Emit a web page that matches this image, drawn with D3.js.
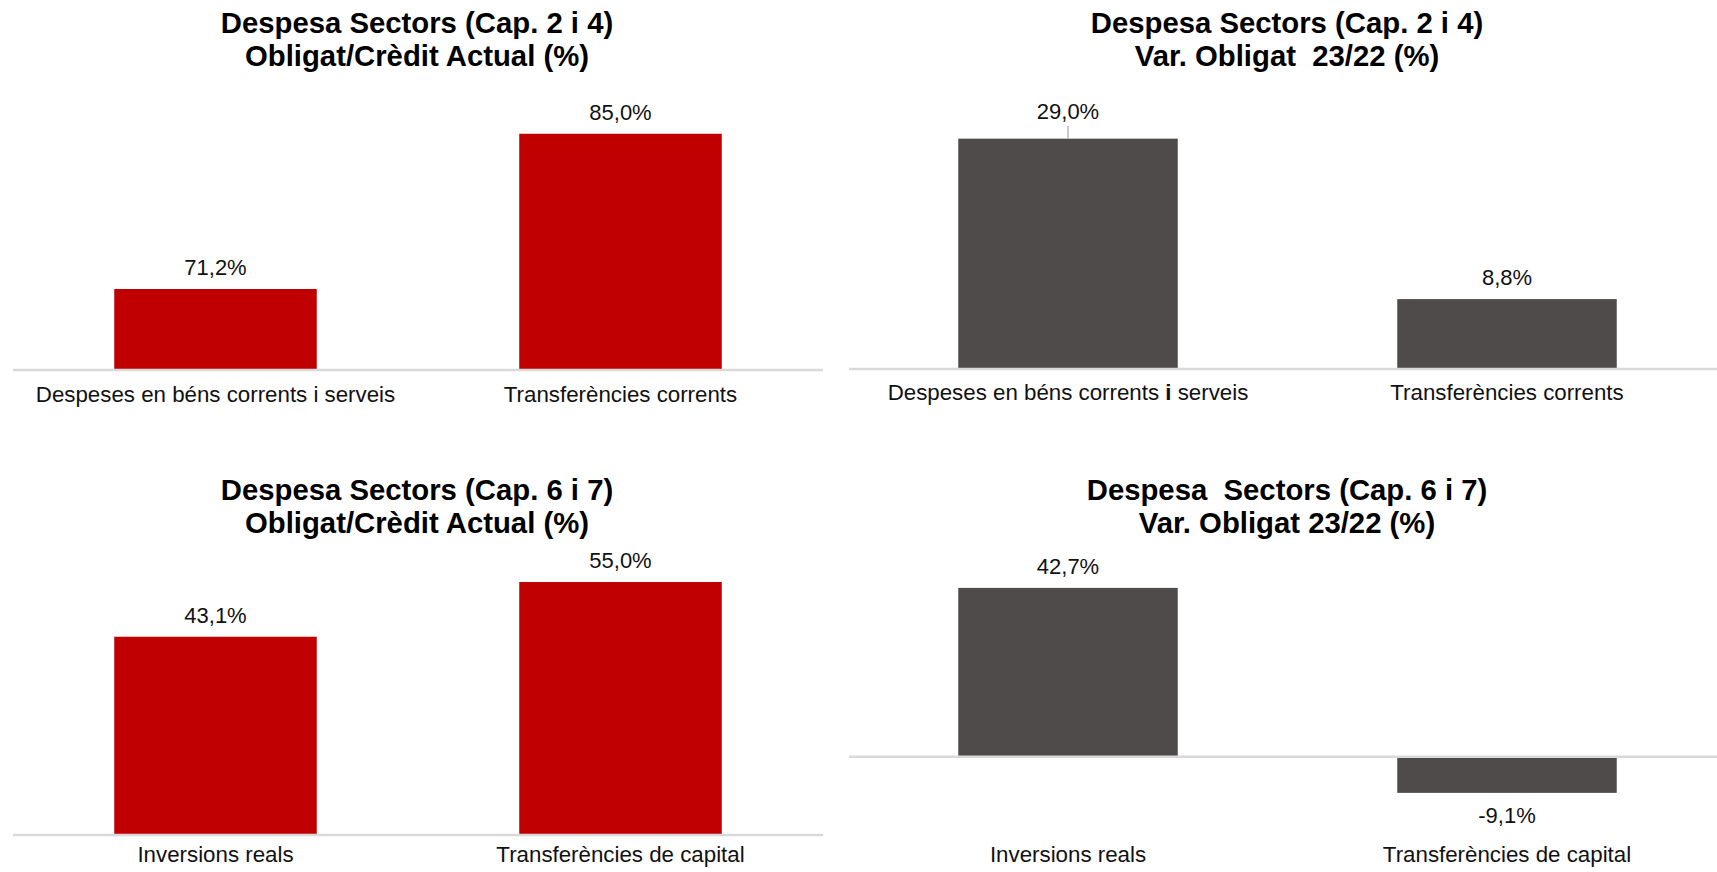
<!DOCTYPE html>
<html>
<head>
<meta charset="utf-8">
<script src="https://cdn.jsdelivr.net/npm/d3@7"></script>
<style>
  html, body { margin: 0; padding: 0; background: #ffffff; }
  svg { display: block; font-family: "Liberation Sans", Arial, sans-serif; }
</style>
</head>
<body>
<svg id="chart" width="1717" height="872"></svg>
<script>
// ---- Data ----
const categoriesCap24 = ["Despeses en béns corrents i serveis", "Transferències corrents"];
const categoriesCap67 = ["Inversions reals", "Transferències de capital"];

const obligatCreditCap24 = [71.2, 85.0];
const varObligatCap24 = [29.0, 8.8];
const obligatCreditCap67 = [43.1, 55.0];
const varObligatCap67 = [42.7, -9.1];

const titleTopLeft = ["Despesa Sectors (Cap. 2 i 4)", "Obligat/Crèdit Actual (%)"];
const titleTopRight = ["Despesa Sectors (Cap. 2 i 4)", "Var. Obligat\u00a0 23/22 (%)"];
const titleBottomLeft = ["Despesa Sectors (Cap. 6 i 7)", "Obligat/Crèdit Actual (%)"];
const titleBottomRight = ["Despesa\u00a0 Sectors (Cap. 6 i 7)", "Var. Obligat 23/22 (%)"];

// ---- Style / layout ----
const RED = "#C00000";
const GREY = "#4F4B4B";
const AXIS = "#D9D9D9";

const locale = d3.formatLocale({decimal: ",", thousands: ".", grouping: [3], currency: ["", "€"], minus: "-"});
const fmt = v => locale.format(".1f")(v) + "%";

const panels = [
  { cats: categoriesCap24, values: obligatCreditCap24, title: titleTopLeft, color: RED,
    xRange: [13, 823], axisX: [13, 823], yDomain: [64, 88], yRange: [370, 100],
    titleX: 417, titleY: 33, catY: 402, boldI: false },
  { cats: categoriesCap24, values: varObligatCap24, title: titleTopRight, color: GREY,
    xRange: [848.5, 1726.5], axisX: [849, 1717], yDomain: [0, 35], yRange: [369, 91],
    titleX: 1287, titleY: 33, catY: 400, boldI: true, leader: {index: 0, lift: 20} },
  { cats: categoriesCap67, values: obligatCreditCap67, title: titleBottomLeft, color: RED,
    xRange: [13, 823], axisX: [13, 823], yDomain: [0, 60], yRange: [835, 559],
    titleX: 417, titleY: 500, catY: 862, boldI: false },
  { cats: categoriesCap67, values: varObligatCap67, title: titleBottomRight, color: GREY,
    xRange: [848.5, 1726.5], axisX: [849, 1717], yDomain: [-20, 50], yRange: [836, 559],
    titleX: 1287, titleY: 500, catY: 862, boldI: false }
];

const svg = d3.select("#chart");

panels.forEach(p => {
  const g = svg.append("g");
  const x = d3.scaleBand().domain(p.cats).range(p.xRange).paddingInner(0.5).paddingOuter(0.25);
  const y = d3.scaleLinear().domain(p.yDomain).range(p.yRange);
  const base = p.yDomain[0] < 0 ? 0 : p.yDomain[0];
  const data = p.cats.map((c, i) => ({cat: c, v: p.values[i], i}));

  // title
  g.append("text")
    .attr("x", p.titleX).attr("y", p.titleY)
    .attr("text-anchor", "middle")
    .attr("font-size", 29.3).attr("font-weight", "bold").attr("fill", "#000")
    .selectAll("tspan").data(p.title).join("tspan")
    .attr("x", p.titleX).attr("dy", (d, i) => i === 0 ? 0 : 32.5)
    .text(d => d);

  // bars
  g.selectAll("rect.bar").data(data).join("rect")
    .attr("class", "bar")
    .attr("x", d => x(d.cat))
    .attr("width", x.bandwidth())
    .attr("y", d => Math.min(y(d.v), y(base)))
    .attr("height", d => Math.abs(y(d.v) - y(base)))
    .attr("fill", p.color);

  // baseline axis line
  g.append("line")
    .attr("x1", p.axisX[0]).attr("x2", p.axisX[1])
    .attr("y1", y(base)).attr("y2", y(base))
    .attr("stroke", AXIS).attr("stroke-width", 2.5);

  // value labels
  g.selectAll("text.val").data(data).join("text")
    .attr("class", "val")
    .attr("x", d => x(d.cat) + x.bandwidth() / 2)
    .attr("y", d => {
      if (d.v < 0) return y(d.v) + 30;
      const lift = (p.leader && p.leader.index === d.i) ? p.leader.lift : 14;
      return y(d.v) - lift;
    })
    .attr("text-anchor", "middle")
    .attr("font-size", 22).attr("fill", "#111")
    .text(d => fmt(d.v));

  // leader line
  if (p.leader) {
    const d = data[p.leader.index];
    const cx = x(d.cat) + x.bandwidth() / 2;
    g.append("line")
      .attr("x1", cx).attr("x2", cx)
      .attr("y1", y(d.v) - p.leader.lift + 7).attr("y2", y(d.v))
      .attr("stroke", "#A6A6A6").attr("stroke-width", 1.2);
  }

  // category axis (labels at low position)
  const axis = d3.axisBottom(x).tickSize(0).tickPadding(0);
  const ag = g.append("g").attr("transform", `translate(0,${p.catY})`).call(axis);
  ag.select(".domain").remove();
  ag.selectAll("text")
    .attr("y", 0).attr("dy", 0)
    .attr("font-size", 22.3).attr("fill", "#111")
    .attr("font-family", "'Liberation Sans', Arial, sans-serif");
  if (p.boldI) {
    ag.selectAll("text").each(function(d) {
      const m = d.match(/^(.*) i (.*)$/);
      if (!m) return;
      const t = d3.select(this).text(null);
      t.append("tspan").text(m[1] + " ");
      t.append("tspan").attr("font-weight", "bold").text("i");
      t.append("tspan").text(" " + m[2]);
    });
  }
});
</script>
</body>
</html>
